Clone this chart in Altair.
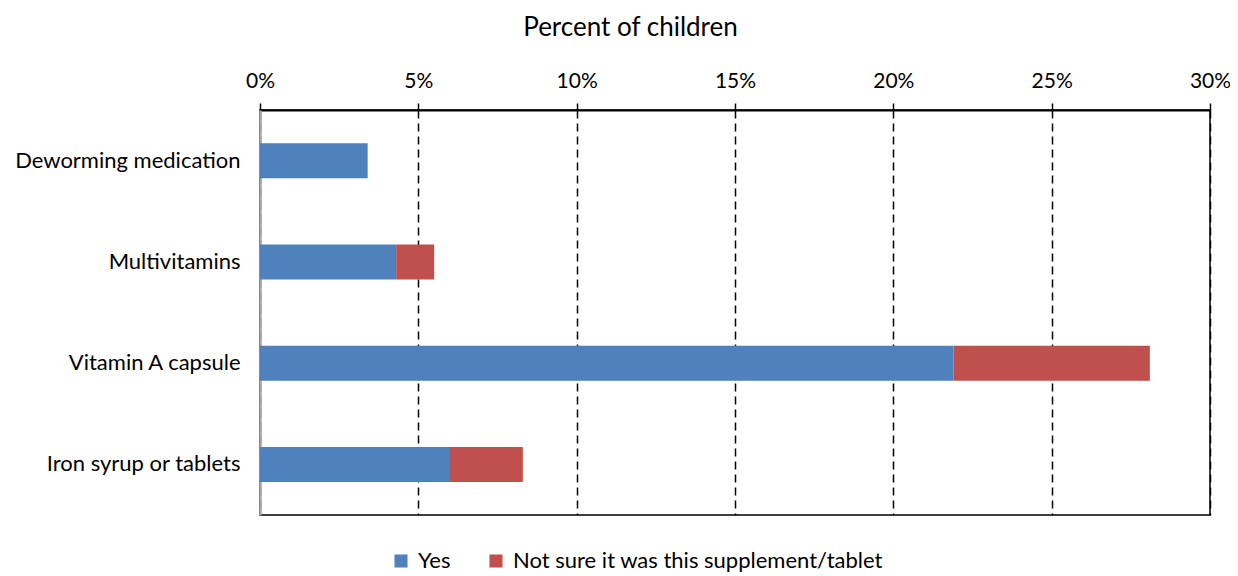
import altair as alt
import pandas as pd

categories = ["Deworming medication", "Multivitamins", "Vitamin A capsule", "Iron syrup or tablets"]
series = ["Yes", "Not sure it was this supplement/tablet"]
yes_vals = [3.4, 4.3, 21.9, 6.0]
notsure_vals = [0.0, 1.2, 6.2, 2.3]
colors = ["#4F81BD", "#C0504D"]

rows = []
for c, y, n in zip(categories, yes_vals, notsure_vals):
    rows.append({"cat": c, "series": series[0], "val": y / 100, "ord": 0})
    if n > 0:
        rows.append({"cat": c, "series": series[1], "val": n / 100, "ord": 1})
df = pd.DataFrame(rows)

FONT = "Lato"

bars = alt.Chart(df).mark_bar(size=35).encode(
    x=alt.X("sum(val):Q", stack="zero",
            scale=alt.Scale(domain=[0, 0.3], nice=False),
            axis=alt.Axis(orient="top", format=".0%", values=[0, 0.05, 0.1, 0.15, 0.2, 0.25, 0.3],
                          title="Percent of children", titleFontSize=26, titleFontWeight="normal",
                          titleFont=FONT, titleX=370, titleY=-75, titleAlign="center",
                          titleBaseline="alphabetic", titleColor="black",
                          labelFont=FONT, labelFontSize=21, labelFlush=False,
                          labelColor="black", labelPadding=12, domainColor="black", domainWidth=2,
                          tickColor="black", tickSize=7, tickWidth=1.5,
                          grid=True, gridColor="black", gridDash=[8, 5], gridWidth=1.5)),
    y=alt.Y("cat:N", sort=categories, title=None,
            axis=alt.Axis(labelFont=FONT, labelFontSize=22, labelColor="black", labelPadding=20,
                          labelLimit=0, ticks=False, domainColor="#a6a6a6", domainWidth=2.5)),
    color=alt.Color("series:N", sort=series, scale=alt.Scale(domain=series, range=colors),
                    legend=alt.Legend(orient="none", direction="horizontal", title=None,
                                      legendX=130, legendY=440, symbolType="square", symbolSize=170,
                                      symbolStrokeWidth=0, labelFont=FONT, labelFontSize=22,
                                      labelLimit=0, labelColor="black", columnPadding=34,
                                      labelOffset=6)),
    order=alt.Order("ord:Q"),
)

chart = bars.properties(
    width=950, height=405,
    autosize=alt.AutoSizeParams(type="none"),
    padding={"left": 252, "top": 102, "right": 20, "bottom": 58},
).configure_view(stroke="black", strokeWidth=1.5).configure_scale(bandPaddingInner=0.65)

chart.save("out.html", embed_options={"renderer": "svg", "actions": False})
